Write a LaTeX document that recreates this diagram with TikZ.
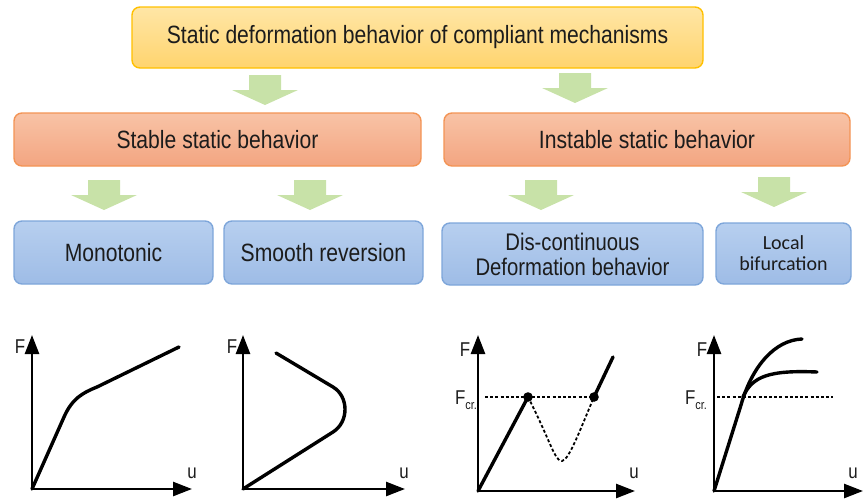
\documentclass[tikz,border=0pt]{standalone}
\usepackage{fontspec}
\setmainfont[FakeStretch=0.845]{Liberation Sans}
\newfontfamily\calfont{Carlito}
\usetikzlibrary{arrows.meta}
\definecolor{txtgray}{HTML}{1C1C1C}
\definecolor{toptop}{HTML}{FFE6A6}
\definecolor{topbot}{HTML}{FFD46E}
\definecolor{topline}{HTML}{FFC000}
\definecolor{midtop}{HTML}{F8C3A6}
\definecolor{midbot}{HTML}{F3A581}
\definecolor{midline}{HTML}{F39455}
\definecolor{lowtop}{HTML}{B7CFEF}
\definecolor{lowbot}{HTML}{9EBCE6}
\definecolor{lowline}{HTML}{7EA6DA}
\definecolor{arrowgreen}{HTML}{C8E2A8}

\begin{document}
\begin{tikzpicture}[x=1pt,y=-1pt,>={Triangle[length=19pt,width=14pt]},
  box/.style={rounded corners=8pt,line width=1.4pt,inner sep=0pt,align=center,
    font=\fontsize{25}{29}\selectfont,text=txtgray},
  topbox/.style={box,draw=topline,top color=toptop,bottom color=topbot},
  midbox/.style={box,draw=midline,top color=midtop,bottom color=midbot},
  lowbox/.style={box,draw=lowline,top color=lowtop,bottom color=lowbot},
  axis/.style={line width=2.6pt,->},
  curve/.style={line width=3.4pt,line cap=round,line join=round},
  crit/.style={line width=1.8pt,dash pattern=on 3pt off 2.2pt},
  lbl/.style={font=\fontsize{20}{20}\selectfont,inner sep=0pt,text=txtgray}]
\useasboundingbox (0,0) rectangle (864,501);

% boxes
\node[topbox,minimum width=571,minimum height=61] (static) at (417.5,37.5)
  {Static deformation behavior of compliant mechanisms};
\node[midbox,minimum width=407,minimum height=53] (stable) at (217.5,139.5)
  {Stable static behavior};
\node[midbox,minimum width=406,minimum height=53] (instable) at (647,139.5)
  {Instable static behavior};
\node[lowbox,minimum width=199,minimum height=63] (mono) at (113.5,252.5) {Monotonic};
\node[lowbox,minimum width=199,minimum height=63] (smooth) at (323.5,252.5) {Smooth reversion};
\node[lowbox,minimum width=261,minimum height=62,font=\fontsize{24}{25}\selectfont] (discont) at (572.5,254)
  {Dis-continuous\\Deformation behavior};
\node[lowbox,minimum width=135,minimum height=61,font=\calfont\fontsize{20}{21}\selectfont] (bifurc) at (783.5,253.5)
  {Local\\bifurcation};

% green block arrows
\foreach \x/\y in {265/75,575/73,104/180,310/180,541/180,774/177}
  \fill[arrowgreen] (\x-16,\y) -- (\x+16,\y) -- (\x+16,\y+15) -- (\x+33,\y+15)
    -- (\x,\y+30) -- (\x-33,\y+15) -- (\x-16,\y+15) -- cycle;

% monotonic
\coordinate (o1) at (32,489);
\draw[axis] (o1) -- (32,335);
\draw[axis] (o1) -- (192,489);
\node[lbl] (f1) at (20,347) {F};
\node[lbl] (u1) at (192,473) {u};
\draw[curve] (o1) -- (64,417) .. controls (72,399) and (82,393) .. (97,387) -- (179,347);

% smooth reversion
\coordinate (o2) at (243,489);
\draw[axis] (o2) -- (243,335);
\draw[axis] (o2) -- (405,489);
\node[lbl] (f2) at (232,347) {F};
\node[lbl] (u2) at (404,473) {u};
\draw[curve] (o2) -- (333,432) .. controls (349,422) and (349,396.5) .. (333,387) -- (276,353);

% dis-continuous
\coordinate (o3) at (478,491);
\coordinate (d1) at (528,397); \coordinate (d2) at (594,397);
\draw[axis] (o3) -- (478,335);
\draw[axis] (o3) -- (635,491);
\node[lbl] (f3) at (465,350) {F};
\node[lbl] (fc3) at (466,400) {F\raisebox{-5pt}{\fontsize{13}{13}\selectfont cr.}};
\node[lbl] (u3) at (634,473) {u};
\draw[crit] (485,397) -- (d2);
\draw[crit] (d1) .. controls (550,440) and (555,462) .. (562,461)
  .. controls (569,460) and (580,430) .. (d2);
\draw[curve] (o3) -- (d1);
\draw[curve] (d2) -- (613,357);
\fill (d1) circle (4.8pt);
\fill (d2) circle (4.8pt);

% local bifurcation
\coordinate (o4) at (714,491);
\draw[axis] (o4) -- (714,335);
\draw[axis] (o4) -- (863,491);
\node[lbl] (f4) at (702,350) {F};
\node[lbl] (fc4) at (696,400) {F\raisebox{-5pt}{\fontsize{13}{13}\selectfont cr.}};
\node[lbl] (u4) at (853,473) {u};
\draw[crit] (717,397) -- (833,397);
\draw[curve] (o4) -- (741,405) .. controls (752,366) and (775,340) .. (802,339);
\draw[curve] (743,397) .. controls (752,376) and (770,370) .. (817,372);
\end{tikzpicture}
\end{document}
